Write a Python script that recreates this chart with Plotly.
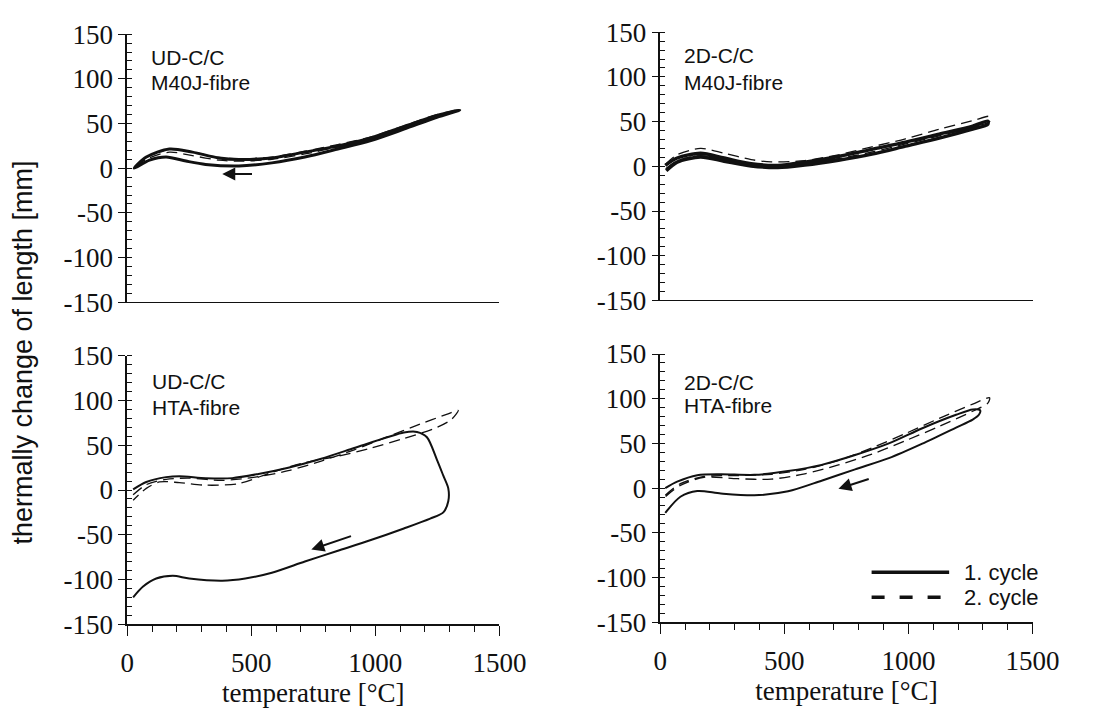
import plotly.graph_objects as go

# ---------------- data ----------------
# Temperature [°C] and thermal change of length [mm]; each cycle = heating then cooling
ud_m40j_c1_T = [28, 77, 170, 263, 370, 450, 583, 716, 849, 982, 1115, 1248, 1340,
                1248, 1115, 982, 849, 716, 583, 450, 316, 237, 157, 90, 28]
ud_m40j_c1_L = [0, 12.5, 21.5, 18, 11.5, 9.7, 11.5, 18, 25, 34, 46.5, 59, 65,
                57, 43.7, 31, 21.5, 12.5, 6, 2.5, 4.3, 8, 12.5, 9, 0]
ud_m40j_c2_T = [28, 77, 170, 263, 370, 450, 583, 716, 849, 982, 1115, 1248, 1340,
                1248, 1115, 982, 849, 716, 583, 450, 370, 263, 170, 77, 28]
ud_m40j_c2_L = [0, 12, 21, 18, 12, 10.5, 12.5, 19, 26.5, 35, 47.5, 60, 65.5,
                58.5, 45.5, 33, 24, 16, 10, 8, 9, 14, 18, 10, 0]

d2_m40j_c1_T = [20, 68, 162, 257, 366, 474, 582, 718, 853, 988, 1124, 1259, 1320,
                1320, 1259, 1124, 988, 853, 718, 582, 474, 366, 257, 162, 68, 24]
d2_m40j_c1_L = [1, 9.3, 14.7, 9.3, 2.9, 1.1, 4.7, 11, 19, 27, 36, 45, 50.5,
                47, 41.5, 31.5, 22.5, 13.6, 6.8, 1.4, -1.4, 0.4, 5.7, 10.4, 4.7, -5]
d2_m40j_c2_T = [20, 68, 162, 257, 366, 447, 582, 718, 853, 988, 1124, 1259, 1327,
                1327, 1259, 1124, 988, 853, 718, 582, 474, 366, 257, 162, 68, 20]
d2_m40j_c2_L = [2, 12.9, 20, 14.7, 7.5, 5, 6.4, 12.9, 21.8, 30.8, 41.5, 51, 55.8,
                50, 44, 34, 25, 16, 8.5, 3, 1, 2, 7, 12, 6, -3]

ud_hta_c1_T = [24, 77, 157, 210, 317, 423, 529, 649, 782, 915, 1048, 1115, 1168, 1208,
               1248, 1274, 1294, 1294, 1274, 1221, 1115, 982, 849, 716, 583, 476,
               383, 250, 184, 117, 64, 24]
ud_hta_c1_L = [0.7, 9, 14.4, 15.5, 13.3, 13.3, 18, 25, 35, 47, 59, 64.4, 65, 59,
               34, 16, 1.8, -12.6, -25, -32, -43, -56, -68, -80, -92.5, -99,
               -101.5, -99, -96, -99, -108, -120]
ud_hta_c2_T = [24, 77, 157, 250, 383, 516, 649, 782, 915, 1048, 1181, 1287, 1334,
               1307, 1248, 1115, 982, 849, 716, 583, 450, 317, 210, 130, 77, 24]
ud_hta_c2_L = [-5.4, 6, 12, 13.3, 10.8, 14.4, 21.6, 32.4, 45, 59.4, 73.8, 84.6, 89,
               79, 70, 57.6, 46.8, 37.8, 30.6, 19.8, 7.2, 5.4, 8.3, 9, 1.8, -11.5]

d2_hta_c1_T = [20, 68, 149, 244, 379, 515, 650, 785, 921, 1056, 1192, 1259, 1289,
               1284, 1259, 1192, 1056, 921, 785, 650, 515, 379, 244, 149, 81, 20]
d2_hta_c1_L = [0, 7.2, 14.4, 15.5, 14.8, 19, 26, 37, 50, 67, 82, 88, 87,
               82, 76.7, 67.7, 49.7, 33.5, 21, 8.3, -3.6, -8, -6, -3.2, -9.7, -27.7]
d2_hta_c2_T = [20, 81, 176, 311, 447, 582, 718, 853, 988, 1124, 1259, 1327,
               1320, 1259, 1124, 988, 853, 718, 582, 447, 311, 176, 81, 20]
d2_hta_c2_L = [-8, 5, 13, 14, 15.5, 21, 31, 45, 61, 78, 94, 101,
               95, 86, 69, 53, 38, 26, 16, 10, 10.5, 12, 3, -9.7]

# arrows: (x axis, y axis, tail T, tail L, head T, head L)
arrows = [
    ("x", "y", 509, -6.4, 383, -6.4),
    ("x3", "y3", 908, -51, 742, -66.6),
    ("x4", "y4", 846, 10.8, 718, -0.7),
]

panel_labels = [("UD-C/C", "M40J-fibre"), ("2D-C/C", "M40J-fibre"),
                ("UD-C/C", "HTA-fibre"), ("2D-C/C", "HTA-fibre")]
cycle_names = ["1. cycle", "2. cycle"]
y_ticks = [-150, -100, -50, 0, 50, 100, 150]
y_ticktext = ["-150", "-100", "-50", "0", "50", "100", "150"]
x_ticks = [0, 500, 1000, 1500]
x_ticktext = ["0", "500", "1000", "1500"]
x_title = "temperature [°C]"
y_title = "thermally change of length [mm]"

# ---------------- figure ----------------
W, H = 1107, 709
fig = go.Figure()

panels = [
    ("x", "y", ud_m40j_c1_T, ud_m40j_c1_L, ud_m40j_c2_T, ud_m40j_c2_L, 3.0),
    ("x2", "y2", d2_m40j_c1_T, d2_m40j_c1_L, d2_m40j_c2_T, d2_m40j_c2_L, 3.4),
    ("x3", "y3", ud_hta_c1_T, ud_hta_c1_L, ud_hta_c2_T, ud_hta_c2_L, 2.0),
    ("x4", "y4", d2_hta_c1_T, d2_hta_c1_L, d2_hta_c2_T, d2_hta_c2_L, 2.0),
]
INK = "#111111"
for xa, ya, t1, l1, t2, l2, lw in panels:
    fig.add_trace(go.Scatter(x=t2, y=l2, xaxis=xa, yaxis=ya, mode="lines",
                             name=cycle_names[1], showlegend=False,
                             line=dict(color=INK, width=1.3, dash="11px,6px",
                                       shape="spline", smoothing=0.8)))
    fig.add_trace(go.Scatter(x=t1, y=l1, xaxis=xa, yaxis=ya, mode="lines",
                             name=cycle_names[0], showlegend=False,
                             line=dict(color=INK, width=lw,
                                       shape="spline", smoothing=0.8)))

def px_x(p):
    return p / W

def px_y(p):
    return 1 - p / H

xdom_left = [px_x(124), px_x(508)]
xdom_right = [px_x(674), px_x(1058)]
ydoms = {
    "y": [px_y(300), px_y(20)],
    "y2": [px_y(298), px_y(18)],
    "y3": [px_y(636), px_y(356)],
    "y4": [px_y(634), px_y(354)],
}

serif = "Liberation Serif, Times New Roman, Times, serif"
sans = "Liberation Sans, Arial, Helvetica, sans-serif"

def yaxis_def(key, anchor):
    return dict(domain=ydoms[key], anchor=anchor, range=[-150, 150],
                tickmode="array", tickvals=y_ticks, ticktext=y_ticktext,
                ticks="outside", ticklen=7, tickwidth=1.3, tickcolor=INK,
                showline=True, linecolor=INK, linewidth=1.5,
                showgrid=False, zeroline=False,
                tickfont=dict(family=serif, size=27, color=INK),
                minor=dict(dtick=10, ticks="inside", ticklen=5,
                           tickwidth=1, tickcolor=INK, showgrid=False))

def xaxis_top(dom, anchor):
    return dict(domain=dom, anchor=anchor, range=[0, 1500],
                showline=True, linecolor=INK, linewidth=1.3,
                ticks="", showticklabels=False, showgrid=False, zeroline=False)

def xaxis_bottom(dom, anchor):
    return dict(domain=dom, anchor=anchor, range=[0, 1500],
                tickmode="array", tickvals=x_ticks, ticktext=x_ticktext,
                ticks="outside", ticklen=10, tickwidth=1.3, tickcolor=INK,
                showline=True, linecolor=INK, linewidth=1.5,
                showgrid=False, zeroline=False, ticklabelstandoff=4,
                tickfont=dict(family=serif, size=27, color=INK),
                title=dict(text=x_title, standoff=2,
                           font=dict(family=serif, size=27, color=INK)),
                minor=dict(dtick=100, ticks="outside", ticklen=6,
                           tickwidth=1, tickcolor=INK, showgrid=False))

fig.update_layout(
    width=W, height=H, margin=dict(l=0, r=0, t=0, b=0),
    paper_bgcolor="white", plot_bgcolor="white", showlegend=False,
    xaxis=xaxis_top(xdom_left, "y"),
    xaxis2=xaxis_top(xdom_right, "y2"),
    xaxis3=xaxis_bottom(xdom_left, "y3"),
    xaxis4=xaxis_bottom(xdom_right, "y4"),
    yaxis=yaxis_def("y", "x"),
    yaxis2=yaxis_def("y2", "x2"),
    yaxis3=yaxis_def("y3", "x3"),
    yaxis4=yaxis_def("y4", "x4"),
)

annotations = []
# panel labels: (x axis, y axis, offset from y-axis in px, line-1 y px, line-2 y px)
label_pos = [("x", "y", 22, 44, 71), ("x2", "y2", 22, 42, 70),
             ("x3", "y3", 24, 383, 410), ("x4", "y4", 22, 384, 408)]
for (xa, ya, dx, l1y, l2y), (t1, t2) in zip(label_pos, panel_labels):
    xd = xdom_left if xa in ("x", "x3") else xdom_right
    for txt, py in ((t1, l1y), (t2, l2y)):
        annotations.append(dict(text=txt, xref="paper", yref="paper",
                                x=xd[0] + dx / W, y=px_y(py), xanchor="left",
                                yanchor="middle", showarrow=False,
                                font=dict(family=sans, size=21, color=INK)))
# arrows
for xa, ya, tx, ty, hx, hy in arrows:
    annotations.append(dict(x=hx, y=hy, ax=tx, ay=ty, xref=xa, yref=ya,
                            axref=xa, ayref=ya, text="", showarrow=True,
                            arrowhead=2, arrowsize=1.3, arrowwidth=2,
                            arrowcolor=INK))
# y title
annotations.append(dict(text=y_title, xref="paper", yref="paper",
                        x=px_x(17), y=px_y(352), textangle=-90,
                        xanchor="center", yanchor="middle", showarrow=False,
                        font=dict(family=sans, size=27, color=INK)))
# legend (bottom-right panel)
leg_rows = [(582, "solid"), (608, "dash")]
shapes = []
for (py, dash), name in zip(leg_rows, cycle_names):
    shapes.append(dict(type="line", xref="paper", yref="paper",
                       x0=px_x(892), x1=px_x(972), y0=px_y(py), y1=px_y(py),
                       line=dict(color=INK, width=3.5,
                                 dash="solid" if dash == "solid" else "13px,15px")))
    annotations.append(dict(text=name, xref="paper", yref="paper",
                            x=px_x(985), y=px_y(py), xanchor="left",
                            yanchor="middle", showarrow=False,
                            font=dict(family=sans, size=22, color=INK)))

fig.update_layout(annotations=annotations, shapes=shapes)
fig.write_html("out.html")
